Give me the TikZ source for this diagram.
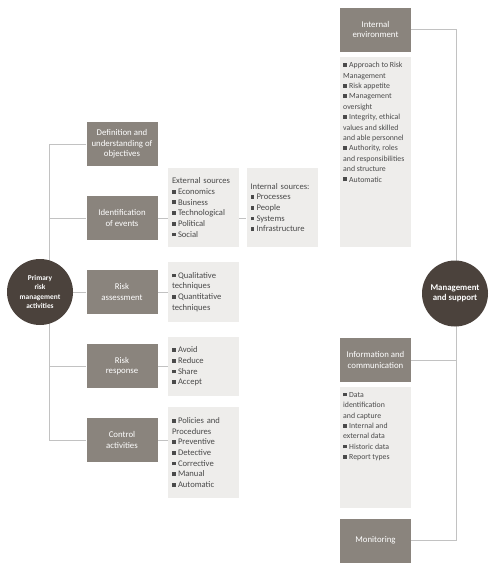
\documentclass[tikz,border=0pt]{standalone}
\usepackage{fontspec}
\setmainfont{Carlito}
\usetikzlibrary{positioning,backgrounds}

\definecolor{boxgray}{HTML}{8A847D}
\definecolor{hubbrown}{HTML}{4B423C}
\definecolor{listgray}{HTML}{EEEDEB}
\definecolor{listtext}{HTML}{4A4A4A}
\definecolor{linkgray}{HTML}{C2C2C2}

% square bullet of the lists
\newcommand{\sq}{\textcolor{listtext}{\rule[0.2ex]{3.8pt}{3.8pt}}\hspace{2.2pt}}

\begin{document}
\begin{tikzpicture}[
  x=1pt, y=-1pt,
  font=\fontsize{8.6}{10.7}\selectfont,
  stage/.style={fill=boxgray, text=white, minimum width=71pt, minimum height=44pt, align=center, inner sep=2pt, font=\fontsize{8.8}{10.5}\selectfont},
  hub/.style={circle, fill=hubbrown, text=white, minimum size=66pt, inner sep=0pt, align=center},
  listbox/.style={fill=listgray, text=listtext, align=left, inner sep=4pt, text width=63pt},
  toplist/.style={fill=listgray, text=listtext, anchor=north west, inner xsep=3pt, inner ysep=5pt, font=\fontsize{7.8}{10.4}\selectfont},
  link/.style={draw=linkgray, line width=1pt},
]
\useasboundingbox (0,0) rectangle (490,574);

% Left: primary risk management activities
\node[hub, font=\fontsize{7.4}{9.5}\selectfont\bfseries] (prm) at (40, 292) {Primary\\risk\\management\\activities};
\node[stage] (def) at (122, 144) {Definition and\\understanding of\\objectives};
\node[stage] (ide) at (122, 218) {Identification\\of events};
\node[stage] (ras) at (122, 292) {Risk\\assessment};
\node[stage] (rre) at (122, 366) {Risk\\response};
\node[stage] (ctl) at (122, 440) {Control\\activities};

% Lists beside the activities
\node[listbox, minimum height=79pt] (ext) at (203.5, 207.5)
  {External sources\\ \sq Economics\\ \sq Business\\ \sq Technological\\ \sq Political\\ \sq Social};
\node[listbox, minimum height=79pt] (int) at (282, 207.5)
  {Internal sources:\\ \sq Processes\\ \sq People\\ \sq Systems\\ \sq Infrastructure};
\node[listbox, minimum height=60pt] (qua) at (203.5, 292)
  {\sq Qualitative\\ techniques\\ \sq Quantitative\\ techniques};
\node[listbox, minimum height=59pt] (avo) at (203.5, 366.5)
  {\sq Avoid\\ \sq Reduce\\ \sq Share\\ \sq Accept};
\node[listbox, minimum height=91pt] (pol) at (203.5, 452.5)
  {\sq Policies and\\ Procedures\\ \sq Preventive\\ \sq Detective\\ \sq Corrective\\ \sq Manual\\ \sq Automatic};

% Right: management and support
\node[stage] (ien) at (375.5, 29.5) {Internal\\environment};
\node[toplist] (ienl) at (340, 57)
  {\parbox[t][180pt][t]{65pt}{\sq Approach to Risk\\ Management\\ \sq Risk appetite\\ \sq Management\\ oversight\\ \sq Integrity, ethical\\ values and skilled\\ and able personnel\\ \sq Authority, roles\\ and responsibilities\\ and structure\\ \sq Automatic}};
\node[stage] (inf) at (375.5, 360) {Information and\\communication};
\node[toplist] (infl) at (340, 387)
  {\parbox[t][111pt][t]{65pt}{\sq Data\\ identification\\ \hspace{2pt}and capture\\ \sq Internal and\\ external data\\ \sq Historic data\\ \sq Report types}};
\node[stage] (mon) at (375.5, 540.5) {Monitoring};
\node[hub, font=\fontsize{8.8}{10}\selectfont\bfseries] (mgs) at (455, 293.5) {Management\\and support};

% Connectors
\begin{scope}[on background layer]
  \coordinate (lspine) at (49, 0);
  \coordinate (rspine) at (456, 0);
  \draw[link] (def.west) -| (lspine |- ctl.west) -- (ctl.west);
  \draw[link] (lspine |- ide.west) -- (ide.west);
  \draw[link] (lspine |- rre.west) -- (rre.west);
  \draw[link] (prm) -- (ras);
  \draw[link] (ide.east) -- (ide.east -| ext.west);
  \draw[link] (ide.east -| ext.east) -- (ide.east -| int.west);
  \draw[link] (ras.east) -- (ras.east -| qua.west);
  \draw[link] (rre.east) -- (rre.east -| avo.west);
  \draw[link] (ctl.east) -- (ctl.east -| pol.west);
  \draw[link] (ien.east) -| (rspine |- mon.east) -- (mon.east);
  \draw[link] (inf.east) -- (rspine |- inf.east);
\end{scope}

\end{tikzpicture}
\end{document}
